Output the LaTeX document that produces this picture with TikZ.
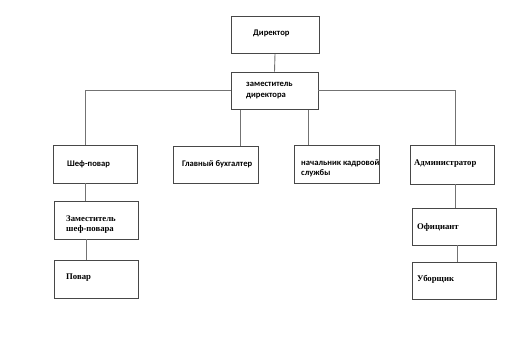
\documentclass[tikz,border=0pt]{standalone}
\usepackage{fontspec}
\setmainfont{Liberation Serif}
\newfontfamily\calfont{Carlito}
\newfontfamily\tmsfont{Liberation Serif}
\begin{document}
\begin{tikzpicture}[x=1pt,y=-1pt,
  box/.style={draw=black!72,line width=0.9pt,minimum width=85pt,minimum height=38pt,inner sep=0pt},
  conn/.style={draw=black!55,line width=0.9pt},
  sanslbl/.style={inner sep=0pt,anchor=west,align=left,font=\calfont\bfseries\fontsize{8.6}{10.5}\selectfont},
  seriflbl/.style={inner sep=0pt,anchor=west,align=left,font=\tmsfont\bfseries\fontsize{8.7}{9.5}\selectfont}]
\useasboundingbox (0,0) rectangle (530,356);
\fill[white] (0,0) rectangle (530,356);
% boxes
\node[box,minimum width=88pt,minimum height=37.5pt] (dir) at (275,34.75) {};
\node[box,minimum width=87pt,minimum height=37.5pt] (zam) at (274.5,90.75) {};
\node[box,minimum width=84pt] (chef) at (95,164) {};
\node[box,minimum height=37pt] (buh) at (215.5,164.5) {};
\node[box] (nach) at (336.5,164.5) {};
\node[box,minimum width=84pt,minimum height=38.5pt] (adm) at (452,164.75) {};
\node[box,minimum width=84pt] (zchef) at (96,220) {};
\node[box,minimum width=84pt] (povar) at (96,279) {};
\node[box,minimum width=84pt,minimum height=37pt] (ofic) at (454,226.5) {};
\node[box,minimum width=84pt,minimum height=37pt] (ubor) at (454,280.5) {};
% labels
\node[sanslbl] (tdir) at (253,33) {Директор};
\node[sanslbl] (tzam) at (246,90.5) {заместитель\\директора};
\node[sanslbl] (tchef) at (67,164) {Шеф-повар};
\node[sanslbl] (tbuh) at (182,164) {Главный бухгалтер};
\node[sanslbl] (tnach) at (301,168) {начальник кадровой\\службы};
\node[seriflbl] (tadm) at (414,164) {Администратор};
\node[seriflbl] (tzchef) at (66,224.7) {Заместитель\\шеф-повара};
\node[seriflbl] (tpovar) at (66,277.5) {Повар};
\node[seriflbl] (tofic) at (417,227.3) {Официант};
\node[seriflbl] (tubor) at (417,279) {Уборщик};
% connectors
\path ([xshift=-34.5pt]zam.south) coordinate (zb);
\path ([xshift=33.5pt]zam.south) coordinate (zn);
\path ([xshift=-9.5pt]chef.south) coordinate (cs);
\path ([xshift=-10pt]zchef.south) coordinate (zs);
\path ([xshift=3.5pt]adm.south) coordinate (as);
\path ([xshift=3pt]ofic.south) coordinate (os);
\draw[conn] (dir.south) -- (zam.north);
\draw[conn] (zam.west) -| ([xshift=-10pt]chef.north);
\draw[conn] (zam.east) -| ([xshift=3pt]adm.north);
\draw[conn] (zb) -- (zb |- buh.north);
\draw[conn] (zn) -- (zn |- nach.north);
\draw[conn] (cs) -- (cs |- zchef.north);
\draw[conn] (zs) -- (zs |- povar.north);
\draw[conn] (as) -- (as |- ofic.north);
\draw[conn] (os) -- (os |- ubor.north);
\end{tikzpicture}
\end{document}
